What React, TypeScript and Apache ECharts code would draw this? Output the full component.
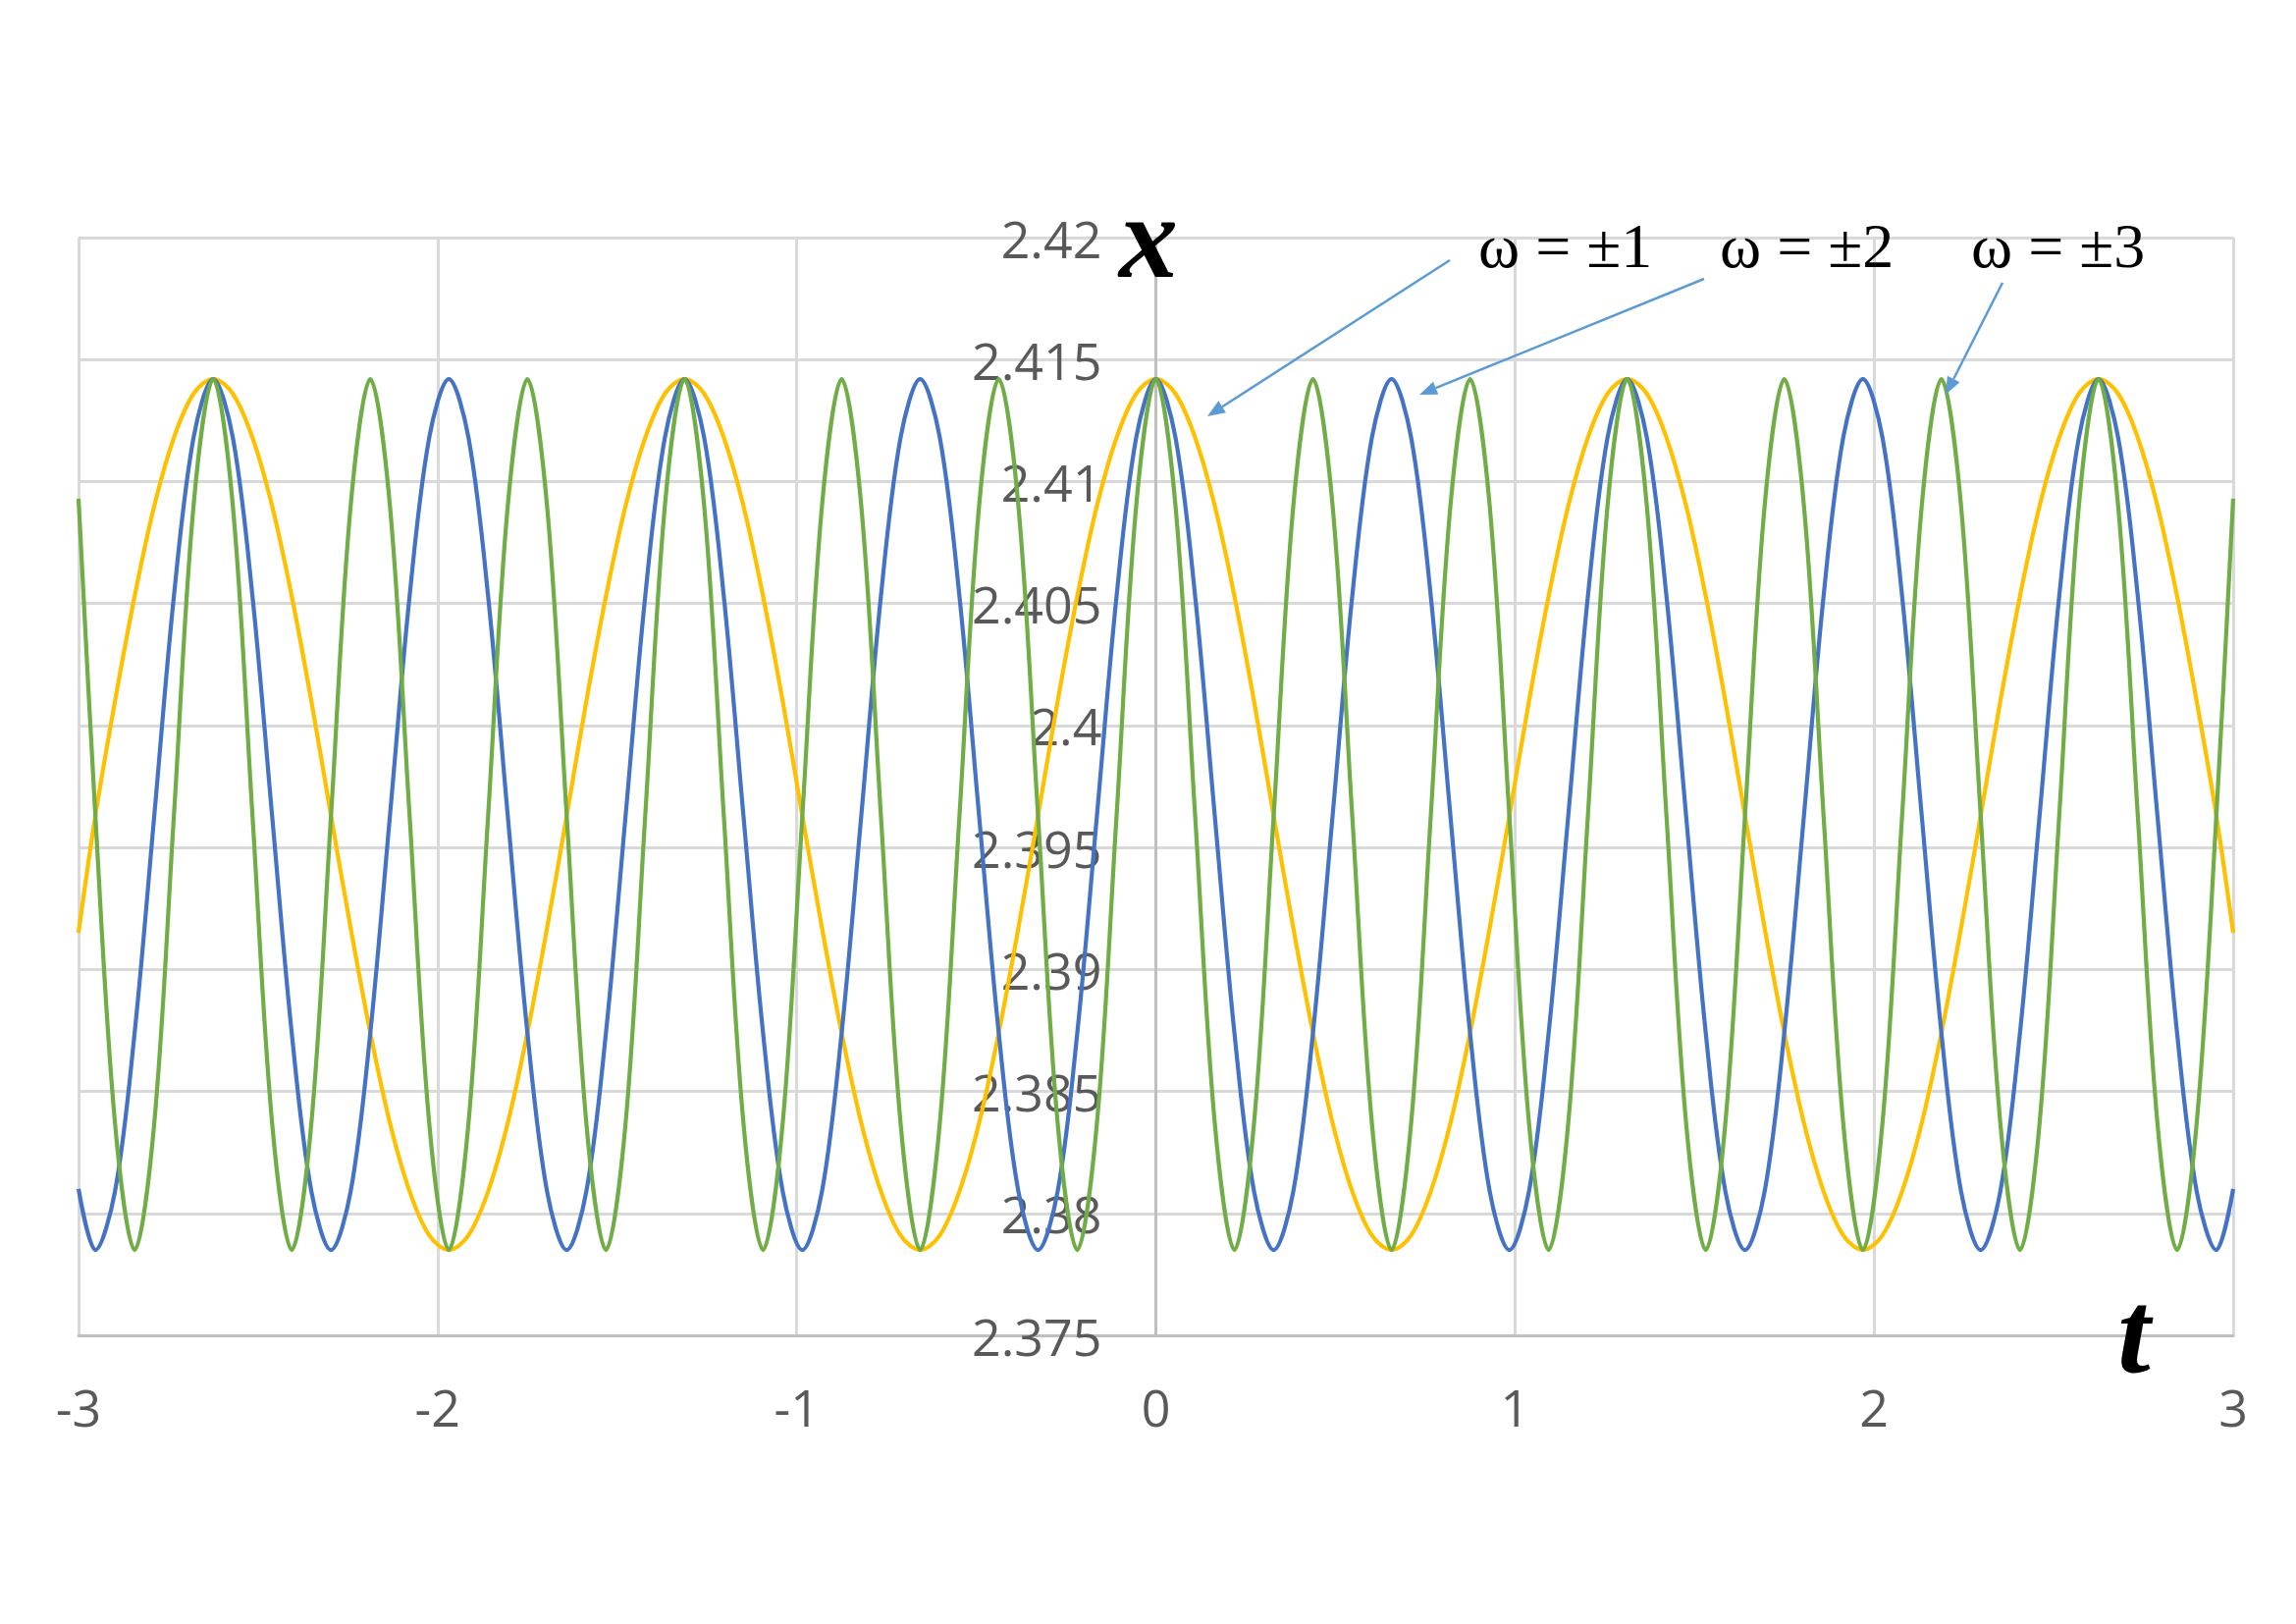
import React, { useEffect, useRef } from "react";
import * as echarts from "echarts";

// Sample times t (shared by the three curves)
const tValues = [
  -3, -2.9531, -2.8984, -2.8438, -2.7891, -2.7344, -2.6797, -2.625, -2.5703, -2.5156, -2.4609,
  -2.4063, -2.3516, -2.2969, -2.2422, -2.1875, -2.1328, -2.0781, -2.0234, -1.9688, -1.9141,
  -1.8594, -1.8047, -1.75, -1.6953, -1.6406, -1.5859, -1.5313, -1.4766, -1.4219, -1.3672,
  -1.3125, -1.2578, -1.2031, -1.1484, -1.0938, -1.0391, -0.9844, -0.9297, -0.875, -0.8203,
  -0.7656, -0.7109, -0.6563, -0.6016, -0.5469, -0.4922, -0.4375, -0.3828, -0.3281, -0.2734,
  -0.2188, -0.1641, -0.1094, -0.0547, 0,
  0.0547, 0.1094, 0.1641, 0.2188, 0.2734, 0.3281, 0.3828, 0.4375, 0.4922, 0.5469,
  0.6016, 0.6563, 0.7109, 0.7656, 0.8203, 0.875, 0.9297, 0.9844, 1.0391, 1.0938,
  1.1484, 1.2031, 1.2578, 1.3125, 1.3672, 1.4219, 1.4766, 1.5313, 1.5859, 1.6406,
  1.6953, 1.75, 1.8047, 1.8594, 1.9141, 1.9688, 2.0234, 2.0781, 2.1328, 2.1875,
  2.2422, 2.2969, 2.3516, 2.4063, 2.4609, 2.5156, 2.5703, 2.625, 2.6797, 2.7344,
  2.7891, 2.8438, 2.8984, 2.9531, 3,
];

// x(t) for ω = ±1 (orange)
const xOmega1 = [
  2.3915,
  2.3963, 2.4010, 2.4053, 2.4090, 2.4118, 2.4136, 2.4142,
  2.4136, 2.4118, 2.4090, 2.4053, 2.4010, 2.3963, 2.3917, 2.3874, 2.3837, 2.3809, 2.3791, 2.3785,
  2.3791, 2.3809, 2.3837, 2.3874, 2.3917, 2.3963, 2.4010, 2.4053, 2.4090, 2.4118, 2.4136, 2.4142,
  2.4136, 2.4118, 2.4090, 2.4053, 2.4010, 2.3963, 2.3917, 2.3874, 2.3837, 2.3809, 2.3791, 2.3785,
  2.3791, 2.3809, 2.3837, 2.3874, 2.3917, 2.3963, 2.4010, 2.4053, 2.4090, 2.4118, 2.4136, 2.4142,
  2.4136, 2.4118, 2.4090, 2.4053, 2.4010, 2.3963, 2.3917, 2.3874, 2.3837, 2.3809, 2.3791, 2.3785,
  2.3791, 2.3809, 2.3837, 2.3874, 2.3917, 2.3963, 2.4010, 2.4053, 2.4090, 2.4118, 2.4136, 2.4142,
  2.4136, 2.4118, 2.4090, 2.4053, 2.4010, 2.3963, 2.3917, 2.3874, 2.3837, 2.3809, 2.3791, 2.3785,
  2.3791, 2.3809, 2.3837, 2.3874, 2.3917, 2.3963, 2.4010, 2.4053, 2.4090, 2.4118, 2.4136, 2.4142,
  2.4136, 2.4118, 2.4090, 2.4053, 2.4010, 2.3963,
  2.3915,
];

// x(t) for ω = ±2 (blue)
const xOmega2 = [
  2.3810,
  2.3785, 2.3809, 2.3874, 2.3963, 2.4053, 2.4118,
  2.4142,
  2.4118, 2.4053, 2.3963, 2.3874, 2.3809, 2.3785, 2.3809, 2.3874, 2.3963, 2.4053, 2.4118, 2.4142,
  2.4118, 2.4053, 2.3963, 2.3874, 2.3809, 2.3785, 2.3809, 2.3874, 2.3963, 2.4053, 2.4118, 2.4142,
  2.4118, 2.4053, 2.3963, 2.3874, 2.3809, 2.3785, 2.3809, 2.3874, 2.3963, 2.4053, 2.4118, 2.4142,
  2.4118, 2.4053, 2.3963, 2.3874, 2.3809, 2.3785, 2.3809, 2.3874, 2.3963, 2.4053, 2.4118, 2.4142,
  2.4118, 2.4053, 2.3963, 2.3874, 2.3809, 2.3785, 2.3809, 2.3874, 2.3963, 2.4053, 2.4118, 2.4142,
  2.4118, 2.4053, 2.3963, 2.3874, 2.3809, 2.3785, 2.3809, 2.3874, 2.3963, 2.4053, 2.4118, 2.4142,
  2.4118, 2.4053, 2.3963, 2.3874, 2.3809, 2.3785, 2.3809, 2.3874, 2.3963, 2.4053, 2.4118, 2.4142,
  2.4118, 2.4053, 2.3963, 2.3874, 2.3809, 2.3785, 2.3809, 2.3874, 2.3963, 2.4053, 2.4118, 2.4142,
  2.4118, 2.4053, 2.3963, 2.3874, 2.3809, 2.3785,
  2.3810,
];

// x(t) for ω = ±3 (green)
const xOmega3 = [
  2.4093,
  2.3963, 2.3837, 2.3785, 2.3837, 2.3963, 2.4090,
  2.4142,
  2.4090, 2.3963, 2.3837, 2.3785, 2.3837, 2.3963, 2.4090, 2.4142,
  2.4090, 2.3963, 2.3837, 2.3785, 2.3837, 2.3963, 2.4090, 2.4142,
  2.4090, 2.3963, 2.3837, 2.3785, 2.3837, 2.3963, 2.4090, 2.4142,
  2.4090, 2.3963, 2.3837, 2.3785, 2.3837, 2.3963, 2.4090, 2.4142,
  2.4090, 2.3963, 2.3837, 2.3785, 2.3837, 2.3963, 2.4090, 2.4142,
  2.4090, 2.3963, 2.3837, 2.3785, 2.3837, 2.3963, 2.4090, 2.4142,
  2.4090, 2.3963, 2.3837, 2.3785, 2.3837, 2.3963, 2.4090, 2.4142,
  2.4090, 2.3963, 2.3837, 2.3785, 2.3837, 2.3963, 2.4090, 2.4142,
  2.4090, 2.3963, 2.3837, 2.3785, 2.3837, 2.3963, 2.4090, 2.4142,
  2.4090, 2.3963, 2.3837, 2.3785, 2.3837, 2.3963, 2.4090, 2.4142,
  2.4090, 2.3963, 2.3837, 2.3785, 2.3837, 2.3963, 2.4090, 2.4142,
  2.4090, 2.3963, 2.3837, 2.3785, 2.3837, 2.3963, 2.4090, 2.4142,
  2.4090, 2.3963, 2.3837, 2.3785, 2.3837, 2.3963,
  2.4093,
];

const xTicks = [-3, -2, -1, 0, 1, 2, 3];
const yTicks = [2.375, 2.38, 2.385, 2.39, 2.395, 2.4, 2.405, 2.41, 2.415, 2.42];
const seriesNames = ["ω = ±1", "ω = ±2", "ω = ±3"];
const seriesColors = ["#FFC000", "#4472C4", "#70AD47"];
const axisNames = { x: "x", t: "t" };

function pairs(vals: number[]) {
  return tValues.map((t, i) => [t, vals[i]]);
}

const GRID_LEFT = 80;
const GRID_RIGHT = 64;
const GRID_TOP = 242;
const GRID_BOTTOM = 294;
const CHART_W = 2339;
const CHART_H = 1654;

const annotationPos = [
  { left: 1506, arrowFrom: [1477, 265], arrowTo: [1230, 424] },
  { left: 1752, arrowFrom: [1736, 284], arrowTo: [1446, 402] },
  { left: 2008, arrowFrom: [2040, 288], arrowTo: [1982, 402] },
];

function buildGraphics() {
  const arrowColor = "#5B9BD5";
  const g: any[] = [];
  g.push({
    type: "text",
    x: 1170,
    y: 241,
    z: 100,
    style: {
      text: axisNames.x,
      fontFamily: "Liberation Serif",
      fontStyle: "italic",
      fontWeight: "bold",
      fontSize: 120,
      fill: "#000000",
      align: "center",
      verticalAlign: "middle",
    },
  });
  g.push({
    type: "text",
    x: 2174,
    y: 1356,
    z: 100,
    style: {
      text: axisNames.t,
      fontFamily: "Liberation Serif",
      fontStyle: "italic",
      fontWeight: "bold",
      fontSize: 120,
      fill: "#000000",
      align: "center",
      verticalAlign: "middle",
    },
  });
  annotationPos.forEach((a, i) => {
    g.push({
      type: "text",
      x: a.left,
      y: 250,
      z: 100,
      style: {
        text: seriesNames[i],
        fontFamily: "Liberation Serif",
        fontSize: 64,
        fill: "#000000",
        align: "left",
        verticalAlign: "middle",
      },
    });
    const [x1, y1] = a.arrowFrom;
    const [x2, y2] = a.arrowTo;
    const dx = x2 - x1;
    const dy = y2 - y1;
    const len = Math.hypot(dx, dy);
    const ux = dx / len;
    const uy = dy / len;
    const headLen = 18;
    const headW = 7;
    const bx = x2 - ux * headLen;
    const by = y2 - uy * headLen;
    g.push({
      type: "line",
      z: 100,
      shape: { x1, y1, x2: bx, y2: by },
      style: { stroke: arrowColor, lineWidth: 2.5 },
    });
    g.push({
      type: "polygon",
      z: 100,
      shape: {
        points: [
          [x2, y2],
          [bx - uy * headW, by + ux * headW],
          [bx + uy * headW, by - ux * headW],
        ],
      },
      style: { fill: arrowColor },
    });
  });
  return g;
}

export default function App() {
  const ref = useRef<HTMLDivElement>(null);
  useEffect(() => {
    if (!ref.current) return;
    const chart = echarts.init(ref.current, undefined, { renderer: "svg" });
    const gridColor = "#D9D9D9";
    const axisColor = "#BFBFBF";
    const labelStyle = {
      fontFamily: "Open Sans",
      fontSize: 52,
      color: "#595959",
    };
    const plotWidth = CHART_W - GRID_LEFT - GRID_RIGHT;
    const xMin = xTicks[0];
    const xMax = xTicks[xTicks.length - 1];
    // move the y axis (line + labels) to t = 0
    const yAxisOffset = -((0 - xMin) / (xMax - xMin)) * plotWidth;
    chart.setOption({
      animation: false,
      backgroundColor: "#ffffff",
      grid: {
        left: GRID_LEFT,
        right: GRID_RIGHT,
        top: GRID_TOP,
        bottom: GRID_BOTTOM,
        containLabel: false,
        outerBoundsMode: "none",
      },
      xAxis: {
        type: "value",
        min: xMin,
        max: xMax,
        interval: 1,
        axisLine: { show: true, onZero: false, lineStyle: { color: axisColor, width: 3 } },
        axisTick: { show: false },
        axisLabel: { ...labelStyle, margin: 46 },
        splitLine: { show: true, lineStyle: { color: gridColor, width: 3 } },
      },
      yAxis: {
        type: "value",
        min: yTicks[0],
        max: yTicks[yTicks.length - 1],
        interval: 0.005,
        position: "left",
        offset: yAxisOffset,
        axisLine: { show: true, onZero: false, lineStyle: { color: axisColor, width: 3 } },
        axisTick: { show: false },
        axisLabel: {
          ...labelStyle,
          margin: 55,
          formatter: (v: number) => String(parseFloat(v.toFixed(3))),
        },
        splitLine: { show: true, lineStyle: { color: gridColor, width: 3 } },
      },
      series: [xOmega1, xOmega2, xOmega3].map((vals, i) => ({
        name: seriesNames[i],
        type: "line",
        data: pairs(vals),
        showSymbol: false,
        smooth: 0.34,
        lineStyle: { color: seriesColors[i], width: 4.2 },
        itemStyle: { color: seriesColors[i] },
        z: 2 + i,
      })),
      graphic: buildGraphics(),
    });
    return () => chart.dispose();
  }, []);
  return (
    <div
      ref={ref}
      style={{ position: "fixed", left: 0, top: 0, width: CHART_W, height: CHART_H, background: "#fff" }}
    />
  );
}
